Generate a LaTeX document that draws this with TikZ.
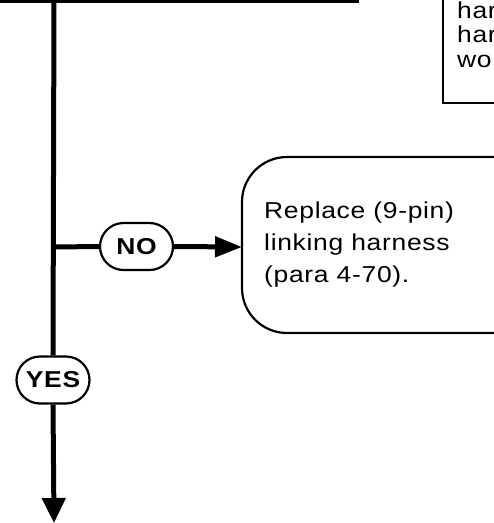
\documentclass[tikz,border=0pt]{standalone}
\usepackage{fontspec}
\usetikzlibrary{arrows.meta,shapes.misc}
\newfontfamily\labfont[FakeStretch=1.15,LetterSpace=3]{Liberation Sans}
\tikzset{
  flow/.style={line width=5pt},
  tag/.style={draw, line width=2.2pt, rounded rectangle, minimum width=73pt, minimum height=47pt, inner sep=0pt, fill=white, font=\labfont\bfseries\fontsize{23}{26}\selectfont},
  actbox/.style={draw, line width=2.2pt, rounded corners=45pt},
  plainbox/.style={draw, line width=2.2pt},
  btext/.style={anchor=base west, align=left, inner sep=0pt, font=\labfont\fontsize{23}{32}\selectfont},
  ttext/.style={anchor=base west, align=left, inner sep=0pt, font=\labfont\fontsize{23}{24.5}\selectfont},
}
\begin{document}
\begin{tikzpicture}[x=1pt,y=-1pt]
\useasboundingbox (0,0) rectangle (494,523);
\clip (0,0) rectangle (494,523);
% top-right box
\draw[plainbox] (443,-20) rectangle (540,103);
\node[ttext] (topt) at (457,67) {har\\har\\wor};
% top line
\coordinate (tl) at (-5,0.3);
\coordinate (tr) at (359,0.3);
\draw[flow] (tl) -- (tr);
% action box
\draw[actbox] (242,157) rectangle (560,333);
\coordinate (boxw) at (242,247);
\node[btext] (act) at (264,282) {Replace (9-pin)\\linking harness\\(para 4-70).};
% nodes
\coordinate (vtop) at (54,-3);
\coordinate (junc) at (54,247);
\coordinate (vbot) at (54,523);
\node[tag] (no) at (136.5,246.5) {NO};
\node[tag] (yes) at (53,380) {YES};
\draw[flow] (vtop) -- (yes.north);
\draw[flow,-{Triangle[length=25pt,width=23pt]}] (yes.south) -- (vbot);
\draw[flow] (junc) -- (no.west);
\draw[flow,-{Triangle[length=27pt,width=20pt]}] (no.east) -- (boxw);
\end{tikzpicture}
\end{document}
